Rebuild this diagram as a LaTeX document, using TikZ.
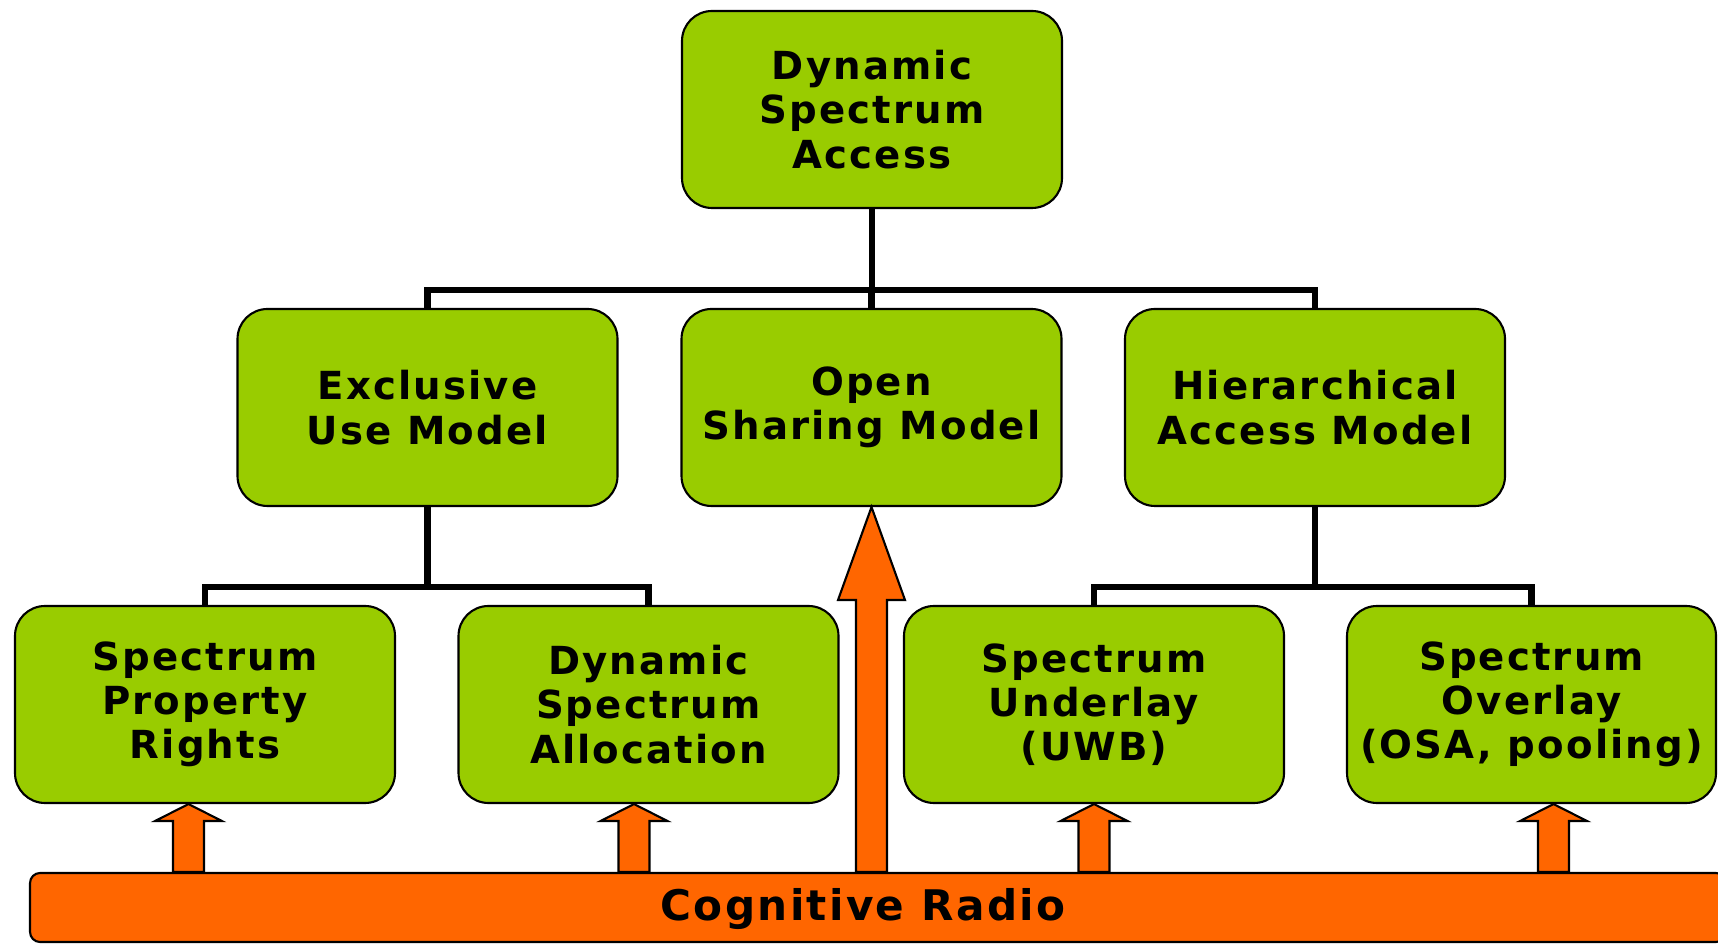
\documentclass[tikz,border=0pt]{standalone}
\usepackage{xcolor}
\usepackage{tikz}
\usetikzlibrary{calc}
\usepackage{fontspec}
\setmainfont{DejaVu Sans}[LetterSpace=5.5]

\definecolor{boxgreen}{HTML}{99CC00}
\definecolor{radioorange}{HTML}{FF6600}

% flecha de bloque desde la barra hasta una caja
\newcommand{\crarrow}[3]{%
  \draw[uparrow] let \p1 = (bar.north), \p2 = (#2.south) in
    ({#1cm-1.55mm},\y1) -- ({#1cm-1.55mm},{\y2-#3}) -- ({#1cm-3.35mm},{\y2-#3})
    -- (#1cm,\y2) -- ({#1cm+3.35mm},{\y2-#3}) -- ({#1cm+1.55mm},{\y2-#3})
    -- ({#1cm+1.55mm},\y1) -- cycle;}

\begin{document}
\begin{tikzpicture}[
  model/.style={rectangle, rounded corners=3mm, draw=black, line width=0.6pt,
    fill=boxgreen, minimum width=3.8cm, minimum height=1.97cm, align=center,
    font=\fontsize{11}{12.6}\selectfont\bfseries},
  link/.style={line width=1.9pt, black},
  uparrow/.style={fill=radioorange, draw=black, line width=0.6pt},
  radiobar/.style={rectangle, rounded corners=1mm, draw=black, line width=0.6pt,
    fill=radioorange, minimum width=16.96cm, minimum height=0.69cm, anchor=west}
]
\useasboundingbox (0,0) rectangle (17.18,9.44);

% Cajas
\node[model] (dsa) at (8.72, 8.345) {Dynamic\\Spectrum\\Access};

\node[model] (eum) at (4.275, 5.365) {Exclusive\\Use Model};
\node[model] (osm) at (8.715, 5.365) {Open\\Sharing Model};
\node[model] (ham) at (13.15, 5.365) {Hierarchical\\Access Model};

\node[model] (spr) at (2.05, 2.395) {Spectrum\\Property\\Rights};
\node[model] (dsal) at (6.485, 2.395) {Dynamic\\Spectrum\\Allocation};
\node[model] (sun) at (10.94, 2.395) {Spectrum\\Underlay\\(UWB)};
\node[model, minimum width=3.69cm] (sov) at (15.315, 2.395) {Spectrum\\Overlay\\(OSA, pooling)};

% Lineas del arbol
\coordinate (bus1) at (8.72, 6.54);
\coordinate (bus2) at (4.275, 3.57);
\coordinate (bus3) at (13.15, 3.57);
\draw[link] (dsa.south) -- (bus1);
\draw[link] (eum.north) |- (bus1) -| (ham.north);
\draw[link] (osm.north) -- (osm.north |- bus1);
\draw[link] (eum.south) -- (bus2);
\draw[link] (spr.north) |- (bus2) -| (dsal.north);
\draw[link] (ham.south) -- (bus3);
\draw[link] (sun.north) |- (bus3) -| (sov.north);

% Barra inferior
\node[radiobar] (bar) at (0.29, 0.365) {};
\node[font=\fontsize{12}{14}\selectfont\bfseries] (crlabel) at (8.63, 0.35) {Cognitive Radio};

% Flechas
\crarrow{1.885}{spr}{1.7mm}
\crarrow{6.34}{dsal}{1.7mm}
\crarrow{8.715}{osm}{9.3mm}
\crarrow{10.94}{sun}{1.7mm}
\crarrow{15.535}{sov}{1.7mm}

\end{tikzpicture}
\end{document}
